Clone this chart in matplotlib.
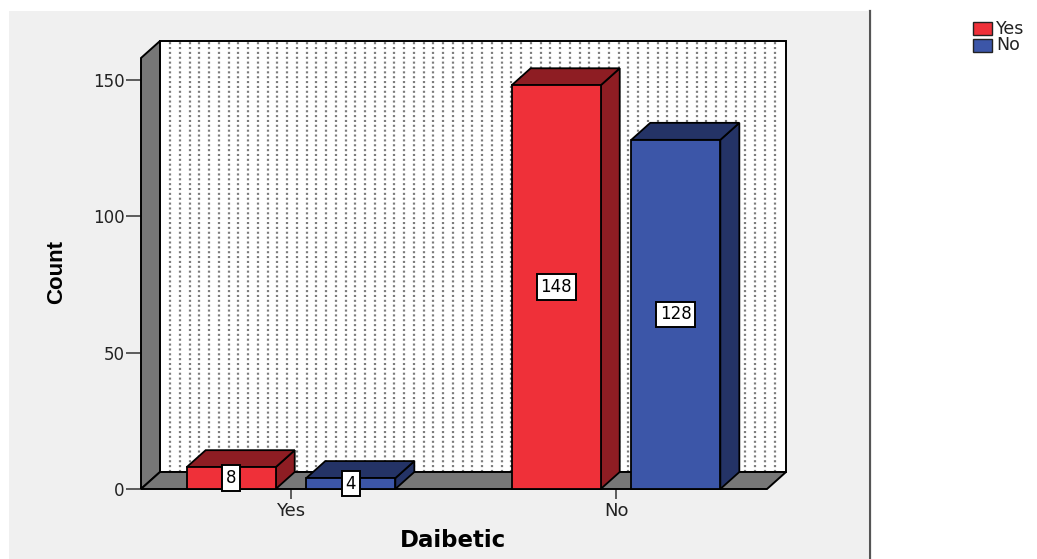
import numpy as np
import matplotlib.pyplot as plt
from matplotlib.patches import Polygon, Rectangle
from matplotlib.lines import Line2D

# dot pattern on the back wall is given in points, keep it independent of width
plt.rcParams['lines.scale_dashes'] = False

# Count of patients by diabetic status, split by series
diabetic = ['Yes', 'No']
series = ['Yes', 'No']
count_yes = [8, 148]
count_no = [4, 128]
counts = [count_yes, count_no]

face_colors = ['#ef3039', '#3c56a8']
shade_colors = ['#8e1d23', '#243366']
wall_gray = '#777777'

W, H = 1037, 559
fig = plt.figure(figsize=(W / 100, H / 100), dpi=100, facecolor='white')

# grey chart panel and the divider before the legend area
fig.add_artist(Rectangle((9 / W, 0), (868 - 9) / W, (H - 11) / H,
                         transform=fig.transFigure, facecolor='#f0f0f0',
                         edgecolor='none', zorder=0))
fig.add_artist(Line2D([869.5 / W, 869.5 / W], [0, (H - 11) / H],
                      transform=fig.transFigure, color='#555555', lw=1.6))

ax = fig.add_axes([141 / W, 70 / H, 626 / W, 431 / H])
x0, x1 = -0.4615, 1.4646
ymax = 158
ax.set_xlim(x0, x1)
ax.set_ylim(0, ymax)
ax.patch.set_visible(False)
for s in ax.spines.values():
    s.set_visible(False)

# 3D depth offset (19 px right, 17 px up) converted to data units
px_x = 626 / (x1 - x0)
px_y = 431 / ymax
ddx = 19 / px_x
ddy = 17 / px_y

# back wall with dotted columns
ax.add_patch(Rectangle((x0 + ddx, ddy), x1 - x0, ymax, facecolor='white',
                       edgecolor='none', zorder=1, clip_on=False))
dot_x = np.arange(x0 + ddx + 10 / px_x, x1 + ddx - 2 / px_x, 9.75 / px_x)
ax.vlines(dot_x, ddy, ymax + ddy, colors='#7c7c7c', linewidth=1.6,
          linestyles=[(0, (1.5, 2.0))], zorder=1.2, clip_on=False)
ax.add_patch(Rectangle((x0 + ddx, ddy), x1 - x0, ymax, facecolor='none',
                       edgecolor='black', lw=1.4, zorder=1.5, clip_on=False))

# left side wall and floor
ax.add_patch(Polygon([(x0, 0), (x0, ymax), (x0 + ddx, ymax + ddy), (x0 + ddx, ddy)],
                     facecolor=wall_gray, edgecolor='black', lw=1.4, zorder=2,
                     clip_on=False))
ax.add_patch(Polygon([(x0, 0), (x1, 0), (x1 + ddx, ddy), (x0 + ddx, ddy)],
                     facecolor=wall_gray, edgecolor='black', lw=1.4, zorder=2,
                     clip_on=False))

# 3D bars
bar_w = 0.274
offsets = [-0.184, 0.184]
for j, vals in enumerate(counts):
    for i, v in enumerate(vals):
        xl = i + offsets[j] - bar_w / 2
        xr = xl + bar_w
        ax.add_patch(Polygon([(xr, 0), (xr, v), (xr + ddx, v + ddy), (xr + ddx, ddy)],
                             facecolor=shade_colors[j], edgecolor='black', lw=1.3,
                             zorder=3, clip_on=False))
        ax.add_patch(Polygon([(xl, v), (xr, v), (xr + ddx, v + ddy), (xl + ddx, v + ddy)],
                             facecolor=shade_colors[j], edgecolor='black', lw=1.3,
                             zorder=3, clip_on=False))
        ax.add_patch(Rectangle((xl, 0), bar_w, v, facecolor=face_colors[j],
                               edgecolor='black', lw=1.3, zorder=3.5, clip_on=False))
        ax.text(i + offsets[j], v / 2, str(v), ha='center', va='center',
                fontsize=12, color='black', zorder=5,
                bbox=dict(boxstyle='square,pad=0.22', fc='white', ec='black', lw=1.4))

ax.set_yticks([0, 50, 100, 150])
ax.set_xticks([0, 1], diabetic)
ax.tick_params(axis='y', length=10.5, width=1.1, color='#333333',
               labelsize=12, labelcolor='#222222', pad=1.5)
ax.tick_params(axis='x', length=7, width=1.1, color='#333333',
               labelsize=13, labelcolor='#222222', pad=2)

fig.text(57 / W, 1 - 272.5 / H, 'Count', rotation=90, ha='center', va='center',
         fontsize=16, fontweight='bold', family='Liberation Sans')
fig.text(453 / W, (H - 547) / H, 'Daibetic', ha='center', va='baseline',
         fontsize=16.5, fontweight='bold')

# legend
for k, name in enumerate(series):
    top = 22 + k * 17
    fig.add_artist(Rectangle((973 / W, 1 - (top + 13) / H), 19 / W, 13 / H,
                             transform=fig.transFigure, facecolor=face_colors[k],
                             edgecolor='#222222', lw=1.0))
    fig.text(996 / W, 1 - (top + 6.5) / H, name, ha='left', va='center',
             fontsize=12.5, color='#222222')

fig.savefig('out.png', dpi=100)
